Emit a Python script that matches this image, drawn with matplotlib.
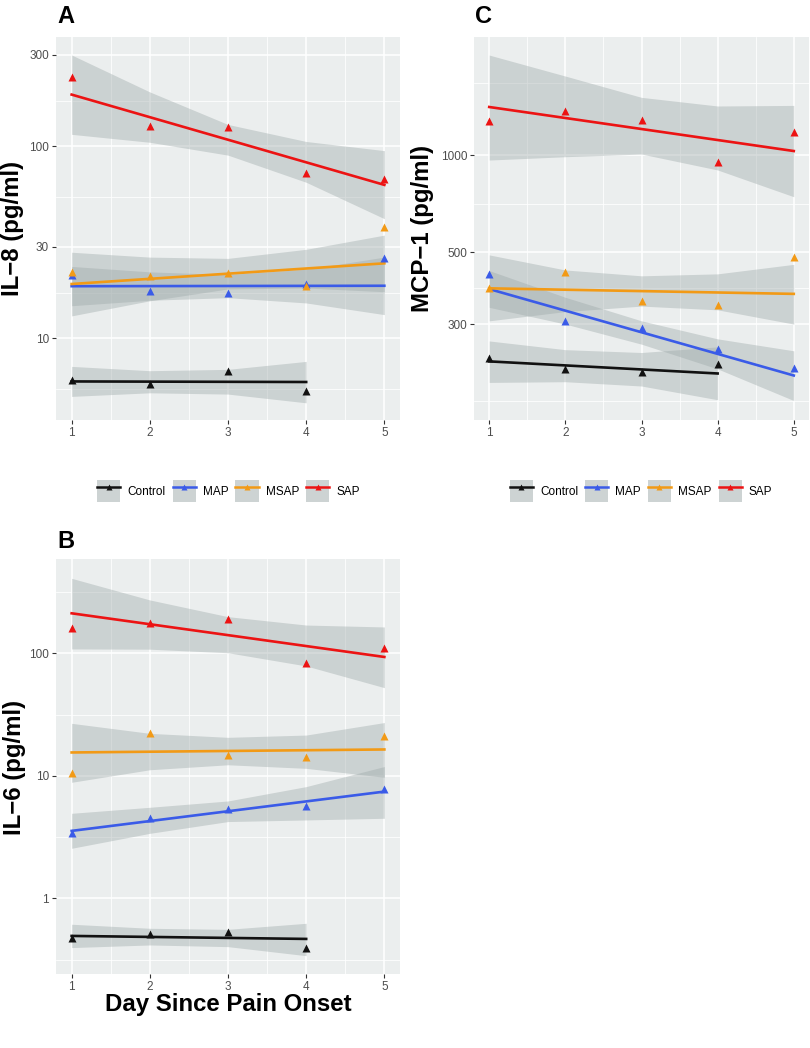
import matplotlib.pyplot as plt
from matplotlib.lines import Line2D
from matplotlib.patches import Patch
from matplotlib.ticker import FixedLocator, NullFormatter

plt.rcParams['font.family'] = ['Liberation Sans', 'DejaVu Sans']

days = [1, 2, 3, 4, 5]
groups = ['Control', 'MAP', 'MSAP', 'SAP']
colors = ['#111111', '#3A5BE8', '#F29A16', '#EC1313']

# IL-8 (panel A): points, fitted line (day 1, last day), band upper / lower
il8_pts = {'Control': [6.04, 5.76, 6.76, 5.32],
           'MAP': [21.3, 17.7, 17.3, 19.2, 26.1],
           'MSAP': [22.2, 21.1, 22.0, 18.8, 38.2],
           'SAP': [230, 127, 126, 73, 68]}
il8_fit = {'Control': [5.97, 5.93], 'MAP': [18.7, 18.8],
           'MSAP': [19.2, 24.6], 'SAP': [186, 63]}
il8_hi = {'Control': [7.15, 6.79, 6.90, 7.59],
          'MAP': [23.7, 22.2, 21.5, 22.9, 26.5],
          'MSAP': [28.1, 26.5, 26.1, 29.1, 34.5],
          'SAP': [299, 192, 130, 106, 95]}
il8_lo = {'Control': [4.99, 5.21, 5.13, 4.62],
          'MAP': [14.8, 15.8, 16.3, 15.3, 13.3],
          'MSAP': [13.1, 15.7, 18.1, 18.3, 17.5],
          'SAP': [115.5, 105, 90, 65, 42]}

# MCP-1 (panel C)
mcp_pts = {'Control': [235, 218, 213, 225],
           'MAP': [429, 306, 291, 251, 219],
           'MSAP': [389, 436, 354, 343, 483],
           'SAP': [1271, 1371, 1280, 954, 1181]}
mcp_fit = {'Control': [230, 211], 'MAP': [385, 208],
           'MSAP': [387, 372], 'SAP': [1408, 1029]}
mcp_hi = {'Control': [266, 250, 245, 255],
          'MAP': [439, 363, 307, 270, 248],
          'MSAP': [491, 441, 423, 429, 459],
          'SAP': [2038, 1755, 1508, 1418, 1424]}
mcp_lo = {'Control': [198, 199, 193, 175],
          'MAP': [338, 300, 260, 218, 174],
          'MSAP': [307, 328, 341, 332, 300],
          'SAP': [965, 988, 1007, 899, 743]}

# IL-6 (panel B)
il6_pts = {'Control': [0.477, 0.508, 0.528, 0.396],
           'MAP': [3.39, 4.50, 5.33, 5.67, 7.76],
           'MSAP': [10.6, 22.2, 14.9, 14.2, 21.1],
           'SAP': [160, 176, 189.5, 84, 110]}
il6_fit = {'Control': [0.493, 0.466], 'MAP': [3.55, 7.43],
           'MSAP': [15.5, 16.4], 'SAP': [212, 93.3]}
il6_hi = {'Control': [0.614, 0.569, 0.558, 0.625],
          'MAP': [4.94, 5.53, 6.23, 8.16, 11.9],
          'MSAP': [26.8, 22.2, 20.6, 21.5, 27.2],
          'SAP': [409, 272.5, 199, 170, 164]}
il6_lo = {'Control': [0.396, 0.416, 0.403, 0.340],
          'MAP': [2.56, 3.39, 4.23, 4.36, 4.50],
          'MSAP': [8.85, 11.2, 12.3, 11.5, 9.72],
          'SAP': [108.5, 108, 101, 78.8, 52.4]}

il8_ticks = [10, 30, 100, 300]
il8_minor = [5.48, 17.3, 54.8, 173]
mcp_ticks = [300, 500, 1000]
mcp_minor = [173, 387, 707, 1670]
il6_ticks = [1, 10, 100]
il6_minor = [0.316, 3.16, 31.6, 316]

W, H = 810, 1048
fig = plt.figure(figsize=(W / 100, H / 100), dpi=100)
axA = fig.add_axes([56 / W, 1 - 420 / H, 344 / W, 383 / H])
axC = fig.add_axes([474 / W, 1 - 420 / H, 335 / W, 383 / H])
axB = fig.add_axes([56 / W, 1 - 974 / H, 344 / W, 414.7 / H])


def draw(ax, pts, fit, hi, lo, ylim, ticks, minors):
    ax.set_facecolor('#EBEEEE')
    for s in ax.spines.values():
        s.set_visible(False)
    ax.set_yscale('log')
    for g, c in zip(groups, colors):
        x = days[:len(pts[g])]
        ax.fill_between(x, lo[g], hi[g], color='#9CA8A8', alpha=0.4, lw=0, zorder=2)
    for g, c in zip(groups, colors):
        x = days[:len(pts[g])]
        ax.plot([x[0], x[-1]], fit[g], color=c, lw=1.9, zorder=3)
    for g, c in zip(groups, colors):
        x = days[:len(pts[g])]
        ax.plot(x, pts[g], ls='none', marker='^', ms=6.3, color=c, mec='none', zorder=4)
    ax.set_xlim(0.8, 5.2)
    ax.set_ylim(*ylim)
    ax.set_xticks(days)
    ax.set_xticklabels([str(d) for d in days])
    ax.set_yticks(ticks)
    ax.set_yticklabels([str(t) for t in ticks])
    ax.yaxis.set_minor_locator(FixedLocator(minors))
    ax.yaxis.set_minor_formatter(NullFormatter())
    ax.xaxis.set_minor_locator(FixedLocator([1.5, 2.5, 3.5, 4.5]))
    ax.xaxis.set_minor_formatter(NullFormatter())
    ax.grid(which='major', color='white', lw=1.1)
    ax.grid(which='minor', color='white', lw=0.55)
    ax.set_axisbelow(True)
    ax.tick_params(which='major', length=3, width=0.8, color='#333333',
                   labelcolor='#4D4D4D', labelsize=8.5, pad=2)
    ax.tick_params(which='minor', length=0)


draw(axA, il8_pts, il8_fit, il8_hi, il8_lo, (3.76, 371), il8_ticks, il8_minor)
draw(axC, mcp_pts, mcp_fit, mcp_hi, mcp_lo, (151.5, 2318), mcp_ticks, mcp_minor)
draw(axB, il6_pts, il6_fit, il6_hi, il6_lo, (0.241, 585), il6_ticks, il6_minor)

lab = dict(fontsize=17.3, fontweight='bold', rotation=90, ha='center', va='center')
fig.text(13 / W, 1 - 228.5 / H, 'IL\u22128 (pg/ml)', **lab)
fig.text(423 / W, 1 - 228.5 / H, 'MCP\u22121 (pg/ml)', **lab)
fig.text(15 / W, 1 - 767 / H, 'IL\u22126 (pg/ml)', **lab)
fig.text(228.5 / W, 1 - 1004 / H, 'Day Since Pain Onset', fontsize=17.3,
         fontweight='bold', ha='center', va='center')

for letter, x, y in [('A', 57, 23), ('C', 475, 23), ('B', 57, 548)]:
    fig.text(x / W, 1 - y / H, letter, fontsize=17, fontweight='bold', va='baseline')

handles = [(Patch(facecolor='#CDD3D3', edgecolor='none'),
            Line2D([], [], color=c, lw=1.8, marker='^', ms=5, mec='none')) for c in colors]
for cx in [228.5, 641]:
    fig.legend(handles, groups, loc='center', bbox_to_anchor=(cx / W, 1 - 491 / H),
               ncol=4, frameon=False, fontsize=8.5, handlelength=1.95, handleheight=2.6,
               handletextpad=0.6, columnspacing=0.6)

fig.savefig('out.png', dpi=100)
